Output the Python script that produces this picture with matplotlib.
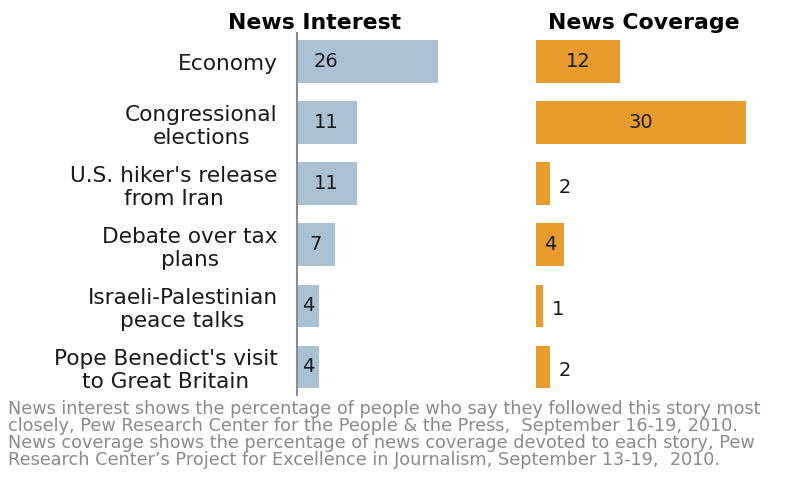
import matplotlib
matplotlib.use("Agg")
import matplotlib.pyplot as plt

# Stories, with the share of people following each most closely and the
# share of news coverage devoted to it
stories = [
    "Economy",
    "Congressional\nelections",
    "U.S. hiker's release\nfrom Iran",
    "Debate over tax\nplans",
    "Israeli-Palestinian\npeace talks",
    "Pope Benedict's visit\nto Great Britain",
]
news_interest = [26, 11, 11, 7, 4, 4]
news_coverage = [12, 30, 2, 4, 1, 2]

titles = ["News Interest", "News Coverage"]
footnote_lines = [
    "News interest shows the percentage of people who say they followed this story most",
    "closely, Pew Research Center for the People & the Press,  September 16-19, 2010.",
    "News coverage shows the percentage of news coverage devoted to each story, Pew",
    "Research Center\u2019s Project for Excellence in Journalism, September 13-19,  2010.",
]

BLUE = "#A9C1D3"
ORANGE = "#E89C2E"
TEXT = "#1a1a1a"
NOTE = "#8a8a8a"

W, H = 810, 487
fig = plt.figure(figsize=(W / 100, H / 100), dpi=100)
fig.patch.set_facecolor("white")


def px_axes(x0, x1, y0, y1):
    return fig.add_axes([x0 / W, 1 - y1 / H, (x1 - x0) / W, (y1 - y0) / H])


ypos = list(range(len(stories)))
bar_h = 0.70
ylim = (len(stories) - 0.54, -0.47)

# Left panel: news interest
ax1 = px_axes(297, 460, 33, 395)
ax1.barh(ypos, news_interest, height=bar_h, color=BLUE)
ax1.set_xlim(0, 30)
ax1.set_ylim(*ylim)
for s in ("top", "right", "bottom"):
    ax1.spines[s].set_visible(False)
ax1.spines["left"].set_color("#8c8c8c")
ax1.spines["left"].set_linewidth(1.5)
ax1.set_xticks([])
ax1.set_yticks(ypos)
ax1.set_yticklabels(stories, fontsize=15.6, color=TEXT)
for lbl in ax1.get_yticklabels():
    lbl.set_multialignment("center")
ax1.tick_params(axis="y", length=0, pad=14)
for y, v in zip(ypos, news_interest):
    ax1.text(min(v / 2, 5.35), y, str(v), ha="center", va="center",
             fontsize=14, color=TEXT)

# Right panel: news coverage
ax2 = px_axes(536, 788, 33, 395)
ax2.barh(ypos, news_coverage, height=bar_h, color=ORANGE)
ax2.set_xlim(0, 36)
ax2.set_ylim(*ylim)
for s in ax2.spines.values():
    s.set_visible(False)
ax2.set_xticks([])
ax2.set_yticks([])
for y, v in zip(ypos, news_coverage):
    if v >= 4:
        ax2.text(v / 2, y, str(v), ha="center", va="center",
                 fontsize=14, color=TEXT)
    else:
        ax2.text(v + 1.3, y + 0.06, str(v), ha="left", va="center",
                 fontsize=14, color=TEXT)

# Panel headings
fig.text(315 / W, 1 - 23 / H, titles[0], ha="center", va="center",
         fontsize=15.8, fontweight="bold", color="black")
fig.text(644 / W, 1 - 23 / H, titles[1], ha="center", va="center",
         fontsize=15.8, fontweight="bold", color="black")

# Source notes
for i, line in enumerate(footnote_lines):
    fig.text(8 / W, 1 - (409 + i * 16.9) / H, line, ha="left", va="center",
             fontsize=12.7, color=NOTE)

fig.savefig("out.png", dpi=100, facecolor="white")
